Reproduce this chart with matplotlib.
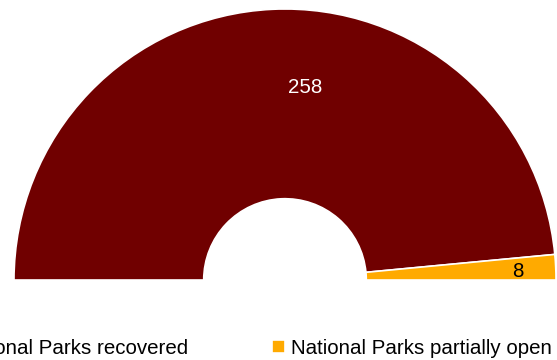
import matplotlib
matplotlib.use("Agg")
import matplotlib.pyplot as plt

# data
labels = ["National Parks recovered", "National Parks partially open"]
values = [258, 8]
colors = ["#700000", "#ffaa00"]
label_colors = ["white", "black"]

plt.rcParams['font.family'] = ['Liberation Sans', 'DejaVu Sans']

fig = plt.figure(figsize=(5.57, 3.6), dpi=100)
ax = fig.add_axes([0, 0, 1, 1])

# half donut: add an invisible slice equal to the total
total = sum(values)
wedges, _ = ax.pie(values + [total], colors=colors + ["none"], startangle=180,
                   counterclock=False, radius=1.0,
                   wedgeprops=dict(width=0.70, edgecolor="white", linewidth=1.2))
wedges[-1].set_edgecolor("none")

# value labels
label_pos = [(0.074, 0.712), (0.86, 0.033)]
for v, (x, y), c in zip(values, label_pos, label_colors):
    ax.text(x, y, str(v), ha="center", va="center", color=c, fontsize=14.8)

# pixel-matched limits (center at 285,280 px, radius 271 px)
r = 271.0
ax.set_xlim(-285 / r, (557 - 285) / r)
ax.set_ylim(-80 / r, 280 / r)
ax.set_aspect("auto")
ax.axis("off")

fig.legend(wedges[:2], labels, loc="center", bbox_to_anchor=(0.441, 0.033),
           ncol=2, frameon=False, fontsize=14.8, handlelength=0.6, handleheight=0.6,
           handletextpad=0.3, columnspacing=4.1)

fig.savefig("out.png", dpi=100)
